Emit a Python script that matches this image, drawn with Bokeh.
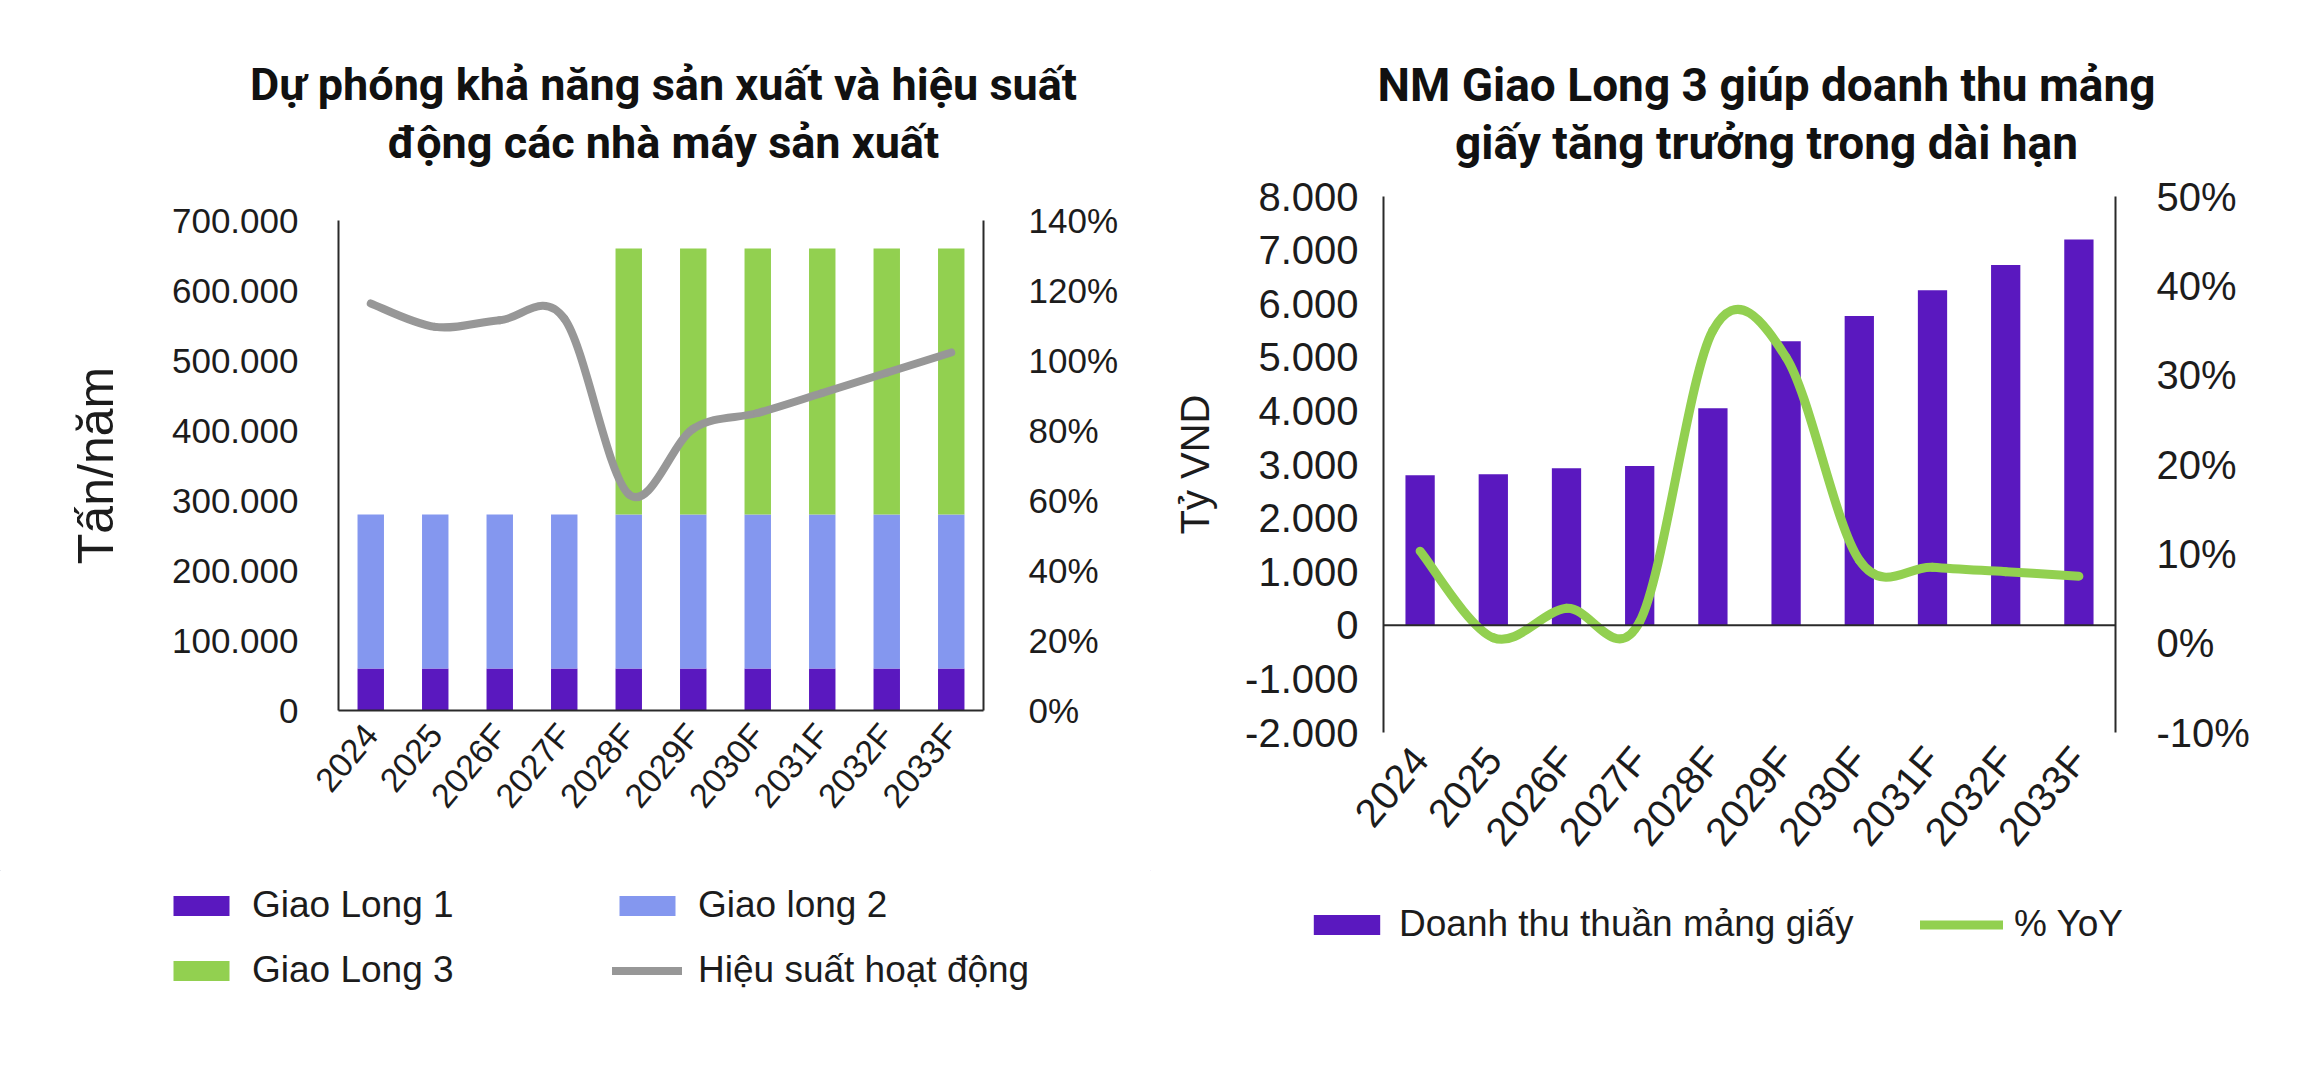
import math
from bokeh.plotting import figure
from bokeh.models import Range1d, LinearAxis, FixedTicker, Label, Legend, LegendItem, Span
from bokeh.layouts import row, column
from bokeh.embed import file_html
from bokeh.resources import INLINE

# ---------------- data ----------------
years = ["2024", "2025", "2026F", "2027F", "2028F", "2029F", "2030F", "2031F", "2032F", "2033F"]

giao_long_1 = [60000, 60000, 60000, 60000, 60000, 60000, 60000, 60000, 60000, 60000]
giao_long_2 = [220000, 220000, 220000, 220000, 220000, 220000, 220000, 220000, 220000, 220000]
giao_long_3 = [0, 0, 0, 0, 380000, 380000, 380000, 380000, 380000, 380000]
hieu_suat = [116.3, 109.6, 111.5, 112.0, 61.8, 80.5, 85.0, 90.7, 96.5, 102.3]  # %

doanh_thu = [2800, 2820, 2930, 2970, 4050, 5300, 5770, 6250, 6720, 7200]  # tỷ VND
yoy = [10.3, 0.6, 3.9, 2.4, 35.0, 32.0, 9.3, 8.5, 8.0, 7.5]  # %

left_ticks = [0, 100000, 200000, 300000, 400000, 500000, 600000, 700000]
left_pct_ticks = [0, 20, 40, 60, 80, 100, 120, 140]
right_ticks = [-2000, -1000, 0, 1000, 2000, 3000, 4000, 5000, 6000, 7000, 8000]
right_pct_ticks = [-10, 0, 10, 20, 30, 40, 50]

title_left = ["Dự phóng khả năng sản xuất và hiệu suất", "động các nhà máy sản xuất"]
title_right = ["NM Giao Long 3 giúp doanh thu mảng", "giấy tăng trưởng trong dài hạn"]

# ---------------- styles ----------------
C_GL1 = "#5A18BF"
C_GL2 = "#8497EF"
C_GL3 = "#92D050"
C_GRAY = "#979797"
C_TXT = "#1c1c1c"
C_AXIS = "#2a2a2a"
TICK_FONT = "Liberation Sans"
TITLE_FONT = "Roboto"

W = 1150
H_TOP, H_MAIN, H_LEG = 172, 698, 210   # stacked rows, total 1080


def dotted(v):
    return "{:,}".format(v).replace(",", ".")


def smooth(xs, ys):
    """Bezier control points (Catmull-Rom style, like spreadsheet smoothed lines)."""
    n = len(xs)
    d = dict(x0=[], y0=[], x1=[], y1=[], cx0=[], cy0=[], cx1=[], cy1=[])
    for i in range(n - 1):
        xp, yp = (xs[i - 1], ys[i - 1]) if i > 0 else (xs[i], ys[i])
        xn, yn = (xs[i + 2], ys[i + 2]) if i + 2 < n else (xs[i + 1], ys[i + 1])
        d["x0"].append(xs[i]); d["y0"].append(ys[i])
        d["x1"].append(xs[i + 1]); d["y1"].append(ys[i + 1])
        d["cx0"].append(xs[i] + (xs[i + 1] - xp) / 6.0)
        d["cy0"].append(ys[i] + (ys[i + 1] - yp) / 6.0)
        d["cx1"].append(xs[i + 1] - (xn - xs[i]) / 6.0)
        d["cy1"].append(ys[i + 1] - (yn - ys[i]) / 6.0)
    return d


def style_common(p):
    p.xgrid.visible = False
    p.ygrid.visible = False
    p.outline_line_color = None
    p.background_fill_color = "white"
    p.border_fill_color = "white"


def style_axis(ax, size, standoff):
    ax.major_tick_line_color = None
    ax.minor_tick_line_color = None
    ax.axis_line_color = C_AXIS
    ax.axis_line_width = 2
    ax.major_label_text_font = TICK_FONT
    ax.major_label_text_font_size = size
    ax.major_label_text_color = C_TXT
    ax.major_label_standoff = standoff


def blank_fig(height, x0, y0):
    """A figure whose frame is the whole canvas; data units = page pixels (y from top)."""
    f = figure(width=W, height=height, output_backend="svg", toolbar_location=None,
               x_range=Range1d(x0, x0 + W), y_range=Range1d(y0 + height, y0),
               x_axis_type=None, y_axis_type=None,
               min_border_left=0, min_border_right=0, min_border_top=0, min_border_bottom=0)
    f.outline_line_color = None
    f.xgrid.visible = False
    f.ygrid.visible = False
    f.background_fill_color = "white"
    f.border_fill_color = "white"
    return f


def make_legend(items, vx, vy, gw, gh, standoff, lw, spacing, size):
    return Legend(items=items, orientation="horizontal", location=(vx, vy),
                  glyph_width=gw, glyph_height=gh, label_standoff=standoff,
                  label_width=lw, label_height=44, spacing=spacing, padding=0, margin=0,
                  border_line_color=None, background_fill_alpha=0,
                  label_text_font=TICK_FONT, label_text_font_size=size,
                  label_text_color=C_TXT, label_text_baseline="middle")


xs = list(range(len(years)))
OFF = [-9999]  # legend-key renderers sit outside the visible range
LEG_TOP = H_TOP + H_MAIN

# =============== LEFT CHART ===============
L_FL, L_FR, L_FT, L_FB = 338, 983, 220, 710   # frame edges, page pixels

t1f = blank_fig(H_TOP, 0, 0)
for txt, py in zip(title_left, [84, 142]):
    t1f.add_layout(Label(x=663, y=py, text=txt, text_align="center", text_baseline="middle",
                         text_font=TITLE_FONT, text_font_style="bold",
                         text_font_size="45px", text_color="#111111"))

p1 = figure(width=W, height=H_MAIN, output_backend="svg", toolbar_location=None,
            x_range=Range1d(-0.5, 9.5), y_range=Range1d(0, 700000),
            min_border_left=L_FL, min_border_right=W - L_FR,
            min_border_top=L_FT - H_TOP, min_border_bottom=LEG_TOP - L_FB)
p1.extra_y_ranges = {"pct": Range1d(0, 140)}
style_common(p1)

b1 = [0] * len(years)
t1 = [b + v for b, v in zip(b1, giao_long_1)]
t2 = [b + v for b, v in zip(t1, giao_long_2)]
t3 = [b + v for b, v in zip(t2, giao_long_3)]

p1.vbar(x=xs, bottom=b1, top=t1, width=0.41, fill_color=C_GL1, line_color=None)
p1.vbar(x=xs, bottom=t1, top=t2, width=0.41, fill_color=C_GL2, line_color=None)
p1.vbar(x=xs, bottom=t2, top=t3, width=0.41, fill_color=C_GL3, line_color=None)
p1.bezier(line_color=C_GRAY, line_width=8, line_cap="round", y_range_name="pct",
          **smooth(xs, hieu_suat))

xa = p1.xaxis[0]
xa.ticker = FixedTicker(ticks=xs)
xa.major_label_overrides = {i: y for i, y in enumerate(years)}
style_axis(xa, "34px", 12)
xa.major_label_orientation = math.radians(50)

ya = p1.yaxis[0]
ya.ticker = FixedTicker(ticks=left_ticks)
ya.major_label_overrides = {v: dotted(v) for v in left_ticks}
style_axis(ya, "35px", 34)
ya.axis_label = "Tấn/năm"
ya.axis_label_text_font = TICK_FONT
ya.axis_label_text_font_style = "normal"
ya.axis_label_text_font_size = "50px"
ya.axis_label_text_color = C_TXT
ya.axis_label_standoff = 45

ya2 = LinearAxis(y_range_name="pct", ticker=FixedTicker(ticks=left_pct_ticks))
ya2.major_label_overrides = {v: f"{v}%" for v in left_pct_ticks}
style_axis(ya2, "35px", 39)
p1.add_layout(ya2, "right")

l1f = blank_fig(H_LEG, 0, LEG_TOP)
g1 = l1f.vbar(x=OFF, top=[1], width=1, fill_color=C_GL1, line_color=None)
g2 = l1f.vbar(x=OFF, top=[1], width=1, fill_color=C_GL2, line_color=None)
g3 = l1f.vbar(x=OFF, top=[1], width=1, fill_color=C_GL3, line_color=None)
g4 = l1f.line(x=OFF * 2, y=[0, 1], line_color=C_GRAY, line_width=8, line_cap="round")
# legend location = bottom-left of legend box, measured from the frame's bottom-left
l1f.add_layout(make_legend([LegendItem(label="Giao Long 1", renderers=[g1]),
                            LegendItem(label="Giao long 2", renderers=[g2])],
                           166, H_LEG - (927 - LEG_TOP), 70, 25, 16, 340, 20, "37px"))
l1f.add_layout(make_legend([LegendItem(label="Giao Long 3", renderers=[g3]),
                            LegendItem(label="Hiệu suất hoạt động", renderers=[g4])],
                           166, H_LEG - (992 - LEG_TOP), 70, 25, 16, 340, 20, "37px"))

# =============== RIGHT CHART ===============
R_OFF = 1150
R_FL, R_FR, R_FT, R_FB = 1383, 2115, 196, 733

t2f = blank_fig(H_TOP, R_OFF, 0)
for txt, py in zip(title_right, [84, 142]):
    t2f.add_layout(Label(x=1766, y=py, text=txt, text_align="center", text_baseline="middle",
                         text_font=TITLE_FONT, text_font_style="bold",
                         text_font_size="46px", text_color="#111111"))

p2 = figure(width=W, height=H_MAIN, output_backend="svg", toolbar_location=None,
            x_range=Range1d(-0.5, 9.5), y_range=Range1d(-2000, 8000),
            min_border_left=R_FL - R_OFF, min_border_right=R_OFF + W - R_FR,
            min_border_top=R_FT - H_TOP, min_border_bottom=LEG_TOP - R_FB)
p2.extra_y_ranges = {"pct": Range1d(-10, 50)}
style_common(p2)

p2.vbar(x=xs, top=doanh_thu, bottom=0, width=0.40, fill_color=C_GL1, line_color=None)
p2.add_layout(Span(location=0, dimension="width", line_color=C_AXIS, line_width=2))
p2.bezier(line_color=C_GL3, line_width=9, line_cap="round", y_range_name="pct",
          **smooth(xs, yoy))

xb = p2.xaxis[0]
xb.ticker = FixedTicker(ticks=xs)
xb.major_label_overrides = {i: y for i, y in enumerate(years)}
style_axis(xb, "40px", 14)
xb.axis_line_color = None
xb.major_label_orientation = math.radians(50)

yb = p2.yaxis[0]
yb.ticker = FixedTicker(ticks=right_ticks)
yb.major_label_overrides = {v: dotted(v) for v in right_ticks}
style_axis(yb, "40px", 19)
yb.axis_label = "Tỷ VND"
yb.axis_label_text_font = TICK_FONT
yb.axis_label_text_font_style = "normal"
yb.axis_label_text_font_size = "40px"
yb.axis_label_text_color = C_TXT
yb.axis_label_standoff = 25

yb2 = LinearAxis(y_range_name="pct", ticker=FixedTicker(ticks=right_pct_ticks))
yb2.major_label_overrides = {v: f"{v}%" for v in right_pct_ticks}
style_axis(yb2, "40px", 35)
p2.add_layout(yb2, "right")

l2f = blank_fig(H_LEG, R_OFF, LEG_TOP)
h1 = l2f.vbar(x=OFF, top=[1], width=1, fill_color=C_GL1, line_color=None)
h2 = l2f.line(x=OFF * 2, y=[0, 1], line_color=C_GL3, line_width=9, line_cap="round")
l2f.add_layout(make_legend([LegendItem(label="Doanh thu thuần mảng giấy", renderers=[h1]),
                            LegendItem(label="% YoY", renderers=[h2])],
                           1305 - R_OFF, H_LEG - (946 - LEG_TOP), 83, 25, 11, 501, 20, "37px"))

# each figure wrapped alone so that no two plots are direct siblings (no frame alignment)
layout = row(column(row(t1f), row(p1), row(l1f)),
             column(row(t2f), row(p2), row(l2f)))
open("out.html", "w").write(file_html(layout, INLINE))
